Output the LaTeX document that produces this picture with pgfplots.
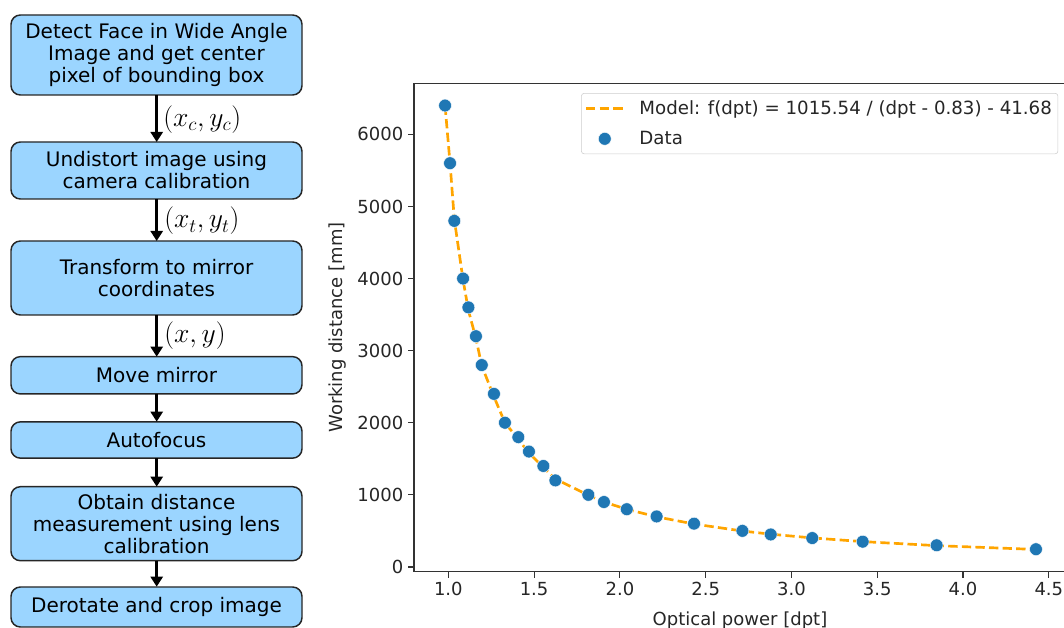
\documentclass[border=0pt]{standalone}
\usepackage{pgfplots}
\pgfplotsset{compat=1.18}
\usepackage{fontspec}
\setmainfont{DejaVu Sans}
\usetikzlibrary{arrows.meta}
\definecolor{boxblue}{RGB}{155,213,255}
\definecolor{mplblue}{HTML}{1F77B4}
\definecolor{mplorange}{HTML}{FFA500}
\definecolor{txt}{HTML}{262626}

\pgfplotstableread{
x y
0.981 6400
1.010 5600
1.035 4800
1.086 4000
1.117 3600
1.161 3200
1.195 2800
1.266 2400
1.330 2000
1.408 1800
1.470 1600
1.554 1400
1.624 1200
1.816 1000
1.907 900
2.040 800
2.214 700
2.432 600
2.714 500
2.879 450
3.121 400
3.415 350
3.846 300
4.425 245
}\datatable

\pgfplotstableread{
x y
0.981 6400
1.010 5600
1.035 4820
1.086 3980
1.117 3560
1.161 3170
1.195 2790
1.266 2360
1.330 2000
1.408 1770
1.470 1580
1.554 1380
1.624 1220
1.816 995
1.907 900
2.040 800
2.214 695
2.432 595
2.714 498
2.879 454
3.121 402
3.415 351
3.846 295
4.425 242
}\modeltable

\begin{document}
\begin{tikzpicture}
\useasboundingbox (0,0) rectangle (798pt,471pt);
\clip (0,0) rectangle (798pt,471pt);
\begin{axis}[
  at={(310.5pt,42.2pt)}, anchor=south west,
  scale only axis, width=489pt, height=366.3pt,
  xmin=0.8, xmax=4.6, ymin=-67, ymax=6708,
  xtick={1,1.5,2,2.5,3,3.5,4,4.5},
  ytick={0,1000,2000,3000,4000,5000,6000},
  xticklabel style={/pgf/number format/.cd, fixed, fixed zerofill, precision=1},
  yticklabel style={/pgf/number format/.cd, fixed, 1000 sep={}},
  /pgf/number format/assume math mode=true,
  tick label style={font=\fontsize{13.5}{16}\selectfont, text=txt},
  tick align=outside, major tick length=4.5pt,
  xtick pos=left, ytick pos=left,
  every tick/.style={black!80, line width=0.9pt},
  axis line style={black!80, line width=0.9pt},
  xlabel={Optical power [dpt]},
  ylabel={Working distance [mm]},
  label style={font=\fontsize{13.5}{16}\selectfont, text=txt},
  xlabel style={at={(axis description cs:0.5,0)}, anchor=base, yshift=-40pt},
  ylabel style={at={(axis description cs:0,0.5)}, anchor=center, rotate=0, yshift=57.5pt},
  reverse legend,
  legend cell align=left,
  legend style={at={(0.988,0.980)}, anchor=north east, draw=black!20,
    rounded corners=2pt, font=\fontsize{13.65}{16}\selectfont, text=txt,
    inner xsep=2.5pt, inner ysep=3.5pt, row sep=7pt, column sep=9pt},
]
\addplot[only marks, mark=*, mark size=4.8pt,
  mark options={fill=mplblue, draw=white, line width=0.3pt},
  legend image code/.code={\draw[mark=*, mark size=4.8pt, mark options={fill=mplblue, draw=white, line width=0.3pt}] plot coordinates {(14pt,0pt)};}]
  table[x=x,y=y] {\datatable};
\addlegendentry{Data}
\addplot[mplorange, line width=2pt, dash pattern=on 7pt off 3.2pt,
  legend image code/.code={\draw[mplorange, line width=2pt, dash pattern=on 7pt off 3.2pt] (0pt,0pt) -- (28pt,0pt);}]
  table[x=x,y=y] {\modeltable};
\addlegendentry{Model: f(dpt) = 1015.54 / (dpt - 0.83) - 41.68}
\end{axis}

\begin{scope}[x=0.75pt,y=-0.75pt,yshift=471pt]
\tikzset{fbox/.style={draw=black!85, line width=1.1pt, fill=boxblue, rounded corners=7pt,
  align=center, font=\fontsize{15}{16.5}\selectfont, minimum width=218.25pt, inner sep=0pt},
  farr/.style={line width=2.2pt, -{Triangle[length=7.5pt,width=9pt]}},
  mlab/.style={anchor=west, inner sep=0pt, font=\fontsize{20.5}{22}\selectfont}}
\node[fbox, minimum height=60pt] at (156.5,55) {Detect Face in Wide Angle\\Image and get center\\pixel of bounding box};
\node[fbox, minimum height=42.75pt] at (156.5,170.5) {Undistort image using\\camera calibration};
\node[fbox, minimum height=55.5pt] at (156.5,278) {Transform to mirror\\coordinates};
\node[fbox, minimum height=28pt] at (156.5,375.3) {Move mirror};
\node[fbox, minimum height=27.2pt] at (156.5,440) {Autofocus};
\node[fbox, minimum height=55.5pt] at (156.5,523.7) {Obtain distance\\measurement using lens\\calibration};
\node[fbox, minimum height=30pt] at (156.5,607) {Derotate and crop image};
\draw[farr] (156.7,95) -- (156.7,142);
\draw[farr] (156.7,199) -- (156.7,241);
\draw[farr] (156.7,315) -- (156.7,356.7);
\draw[farr] (156.7,394) -- (156.7,421.7);
\draw[farr] (156.7,458) -- (156.7,486.7);
\draw[farr] (156.7,560.7) -- (156.7,586.7);
\node[mlab] at (163,119.5) {$(x_c,y_c)$};
\node[mlab] at (164,221) {$(x_t,y_t)$};
\node[mlab] at (164,336) {$(x,y)$};
\end{scope}
\end{tikzpicture}
\end{document}
